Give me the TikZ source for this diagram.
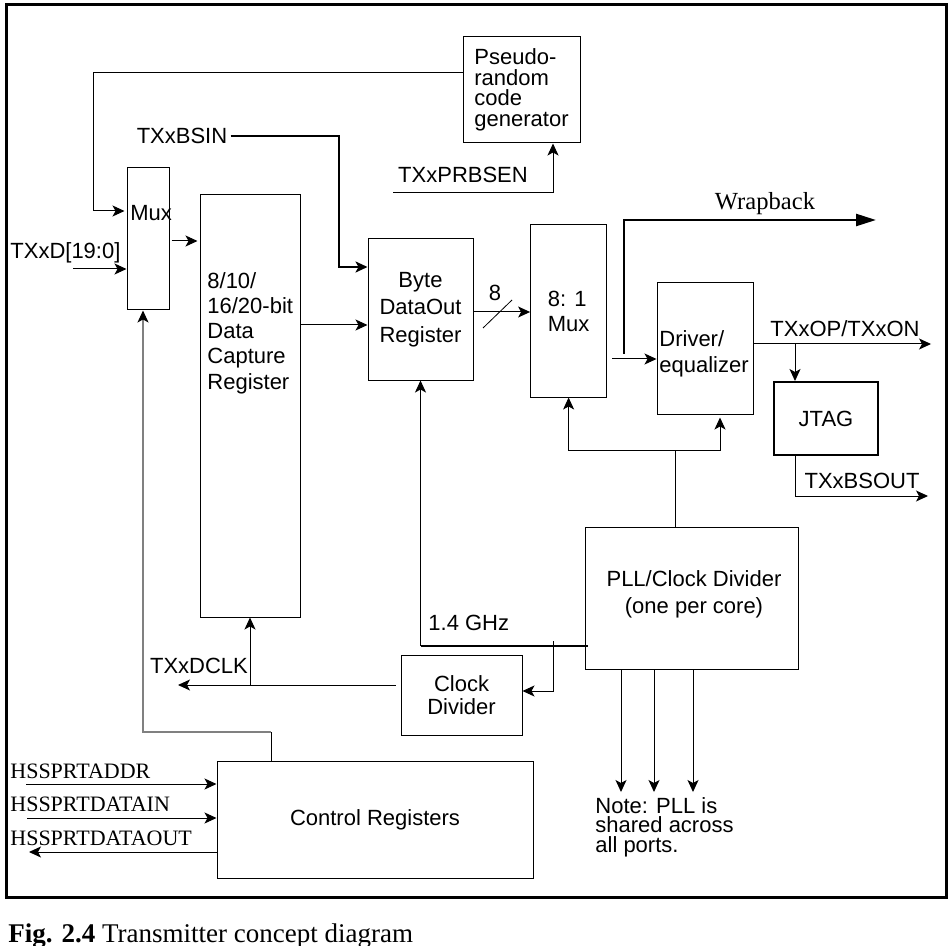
\documentclass[tikz,border=0pt]{standalone}
\usepackage{fontspec}
\setmainfont{Liberation Sans}
\newfontfamily\serfont{Liberation Serif}
\usetikzlibrary{arrows.meta,positioning,calc}

\begin{document}
\begin{tikzpicture}[x=0.5pt,y=-0.5pt,
    font=\fontsize{11}{13}\selectfont,
    blk/.style={draw, rectangle, inner sep=0pt, line width=0.5pt},
    lbl/.style={inner sep=0pt},
    tlbl/.style={inner sep=0pt, font=\serfont\fontsize{11}{13}\selectfont},
    tip/.style={-{Stealth[length=6pt,width=5.5pt,inset=1.5pt]}},
    wire/.style={line width=0.5pt, tip},
    bus/.style={line width=1.2pt}]
  \useasboundingbox (0,0) rectangle (952,946);
  \draw[line width=1.5pt] (6,5) rectangle (946,897);

  \node[blk, minimum width=21pt, minimum height=71pt] (mux) at (148,239) {};
  \node[lbl, anchor=west] at (130,213) {Mux};
  \node[blk, minimum width=50pt, minimum height=211pt] (dcr) at (250,406) {};
  \node[lbl, anchor=west, align=left, font=\fontsize{11}{12.6}\selectfont] at (207,333)
    {8/10/\\16/20-bit\\Data\\Capture\\Register};
  \node[blk, minimum width=52.5pt, minimum height=70.5pt, align=center,
    font=\fontsize{11}{13.75}\selectfont] (byte) at (420.5,309.5) {Byte\\DataOut\\Register};
  \node[blk, minimum width=58.5pt, minimum height=53pt, align=left,
    font=\fontsize{11}{10.3}\selectfont] (prbs) at (521.5,90) {Pseudo-\\random\\code\\generator};
  \node[blk, minimum width=38pt, minimum height=86pt, align=left,
    font=\fontsize{11}{12.5}\selectfont] (mux8) at (568.6,311) {8: 1\\Mux};
  \node[blk, minimum width=48pt, minimum height=65.5pt] (drv) at (705,348.5) {};
  \node[lbl, anchor=west, align=left, font=\fontsize{11}{13}\selectfont] at (659,354)
    {Driver/\\equalizer};
  \node[blk, line width=1pt, minimum width=52pt, minimum height=36.5pt] (jtag) at (826,418.5) {JTAG};
  \node[blk, minimum width=106.5pt, minimum height=71pt] (pll) at (691.5,598) {};
  \node[lbl, align=center, font=\fontsize{11}{13.5}\selectfont] at (694,594)
    {PLL/Clock Divider\\(one per core)};
  \node[blk, minimum width=60.5pt, minimum height=40pt, align=center,
    font=\fontsize{11}{11.5}\selectfont] (clkdiv) at (461.5,695) {Clock\\Divider};
  \node[blk, minimum width=158pt, minimum height=58.5pt] (ctrl) at (375,819.5) {Control Registers};

  \node[lbl, anchor=west] (txd) at (10,253) {TXxD[19:0]};
  \node[lbl] (bsin) at (182,136) {TXxBSIN};
  \node[lbl] (prbsen) at (463,175) {TXxPRBSEN};
  \node[lbl] at (495,293) {8};
  \node[tlbl, font=\serfont\fontsize{12.3}{14}\selectfont] at (765,204) {Wrapback};
  \node[lbl] at (845,329) {TXxOP/TXxON};
  \node[lbl] at (862,481) {TXxBSOUT};
  \node[lbl, anchor=west] at (428,623) {1.4 GHz};
  \node[lbl] at (199,666) {TXxDCLK};
  \node[tlbl, anchor=west] at (10,771) {HSSPRTADDR};
  \node[tlbl, anchor=west] at (10,804) {HSSPRTDATAIN};
  \node[tlbl, anchor=west] at (10,838) {HSSPRTDATAOUT};
  \node[lbl, anchor=west, align=left, font=\fontsize{11}{9.75}\selectfont] (note) at (595,827)
    {Note: PLL is\\shared across\\all ports.};
  \node[tlbl, anchor=base west, font=\serfont\fontsize{13.5}{15}\selectfont] at (8,942)
    {\textbf{Fig. 2.4} Transmitter concept diagram};

  \coordinate (fbk) at (93,73);
  \coordinate (txdin) at (73,269);
  \coordinate (prbsenin) at (393,193);
  \coordinate (wrapst) at (624,354);
  \coordinate (wrapend) at (876,220);
  \coordinate (txop) at (931,344);
  \coordinate (tap) at (795,344);
  \coordinate (bsout) at (928,496);
  \coordinate (clkbr) at (675,450);
  \coordinate (ghz) at (421,646);
  \coordinate (divtap) at (553,641);
  \coordinate (dclk) at (178,685);
  \coordinate (ctrltap) at (271,732);
  \coordinate (addrin) at (26,784);
  \coordinate (datain) at (27,818);
  \coordinate (dataout) at (29,852);

  \draw[wire] (prbs.west |- fbk) -- (fbk) |- ($(mux.west |- 0,211)+(-2,0)$);
  \draw[wire] (txdin) -- (mux.west |- txdin);
  \draw[wire] ($(mux.east |- 0,241)+(2,0)$) -- ($(dcr.west |- 0,241)+(-2,0)$);
  \draw[wire] (dcr.east |- 0,325) -- (byte.west |- 0,325);
  \draw[bus, tip] ($(bsin.east)+(3,0)$) -| (339,267) -- (byte.west |- 0,267);
  \draw[wire] (prbsenin) -| (prbs.south -| 553,0);
  \draw[wire] (byte.east |- 0,312) -- (mux8.west |- 0,312);
  \draw (483,328) -- (512,300);
  \draw[bus, -{Triangle[length=10pt,width=6pt]}] (wrapst) |- (wrapend);
  \draw[wire] ($(mux8.east |- 0,359)+(5,0)$) -- (drv.west |- 0,359);
  \draw[wire] (drv.east |- txop) -- (txop);
  \draw[wire] (tap) -- (tap |- jtag.north);
  \draw[wire] (tap |- jtag.south) |- (bsout);
  \draw (clkbr |- pll.north) -- (clkbr);
  \draw[wire] (clkbr) -| (mux8.south);
  \draw[wire] (clkbr) -| ($(drv.south)+(15,3)$);
  \draw[bus] ($(pll.west |- ghz)+(3,0)$) -- (ghz);
  \draw[wire] (byte.south |- ghz) -- (byte.south);
  \draw[wire] (divtap) |- (clkdiv.east |- 0,691);
  \draw[wire] ($(clkdiv.west |- dclk)+(-5,0)$) -- (dclk);
  \draw[wire] (dcr.south |- dclk) -- (dcr.south);
  \draw (ctrl.north -| ctrltap) -- (ctrltap);
  \draw[line width=0.6pt, gray, -{Stealth[length=6pt,width=5.5pt,inset=1.5pt,black]}]
    (ctrltap) -| ($(mux.south)+(-5,0)$);
  \draw[wire] (addrin) -- (ctrl.west |- addrin);
  \draw[wire] (datain) -- (ctrl.west |- datain);
  \draw[wire] (ctrl.west |- dataout) -- (dataout);
  \foreach \x in {621,654,693}
    \draw[wire] (pll.south -| \x,0) -- (\x,792);
\end{tikzpicture}
\end{document}
